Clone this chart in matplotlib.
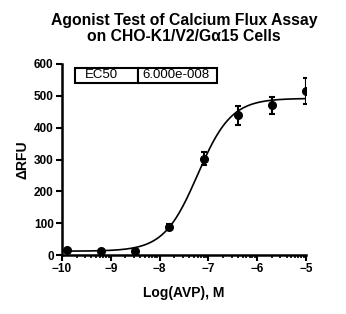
import numpy as np
import matplotlib
matplotlib.use('Agg')
import matplotlib.pyplot as plt
from matplotlib.ticker import FixedLocator

plt.rcParams['font.family'] = ['Liberation Sans', 'DejaVu Sans']

# data
log_conc = [-9.9, -9.2, -8.5, -7.8, -7.1, -6.4, -5.7, -5.0]
rfu = [17, 12, 12, 87, 303, 439, 470, 515]
rfu_err = [3, 3, 3, 9, 21, 30, 27, 42]

# four-parameter fit shown in the chart
bottom, top = 12, 492
log_ec50 = np.log10(6.0e-8)
hill = 1.26
ec50_label = '6.000e-008'

x_ticks = [-10, -9, -8, -7, -6, -5]
y_ticks = [0, 100, 200, 300, 400, 500, 600]

fig = plt.figure(figsize=(3.46, 3.14), dpi=100)
ax = fig.add_axes([62/346, 1-255/314, (306-62)/346, (255-64)/314])

xs = np.linspace(-10, -5, 300)
fit = bottom + (top - bottom) / (1 + 10 ** ((log_ec50 - xs) * hill))
ax.plot(xs, fit, color='black', lw=1.2)
ax.errorbar(log_conc, rfu, yerr=rfu_err, fmt='o', color='black', ms=5.5,
            elinewidth=1.5, capsize=2.5, capthick=1.5)

ax.set_xlim(-10, -5)
ax.set_ylim(0, 600)
ax.set_xticks(x_ticks)
ax.set_yticks(y_ticks)
minor = [d + np.log10(k) for d in range(-10, -5) for k in range(2, 10)]
ax.xaxis.set_minor_locator(FixedLocator(minor))
for s in ['top', 'right']:
    ax.spines[s].set_visible(False)
for s in ['left', 'bottom']:
    ax.spines[s].set_linewidth(1.8)
ax.tick_params(axis='both', which='major', direction='out', length=4, width=1.5,
               labelsize=8.5, pad=2)
ax.tick_params(axis='x', which='minor', direction='out', length=2.5, width=1.2)
for lab in ax.get_xticklabels() + ax.get_yticklabels():
    lab.set_fontweight('bold')

ax.set_xlabel('Log(AVP), M', fontsize=10, fontweight='bold', labelpad=8)
ax.set_ylabel('ΔRFU', fontsize=10, fontweight='bold', labelpad=3)

fig.text(184/346, 1-13/314, 'Agonist Test of Calcium Flux Assay\non CHO-K1/V2/Gα15 Cells',
         ha='center', va='top', fontsize=11.3, fontweight='bold', linespacing=1.05)

tbl = ax.table(cellText=[['EC50', ec50_label]], colWidths=[63, 79],
               cellLoc='left', bbox=[(75-62)/244, (255-83.3)/191, (216.7-75)/244, 15.6/191])
tbl.auto_set_font_size(False)
for (r, c), cell in tbl.get_celld().items():
    cell.set_linewidth(1.5)
    cell.get_text().set_fontsize(9.5)
    cell.PAD = 0.16 if c == 0 else 0.06

fig.savefig('out.png', dpi=100)
